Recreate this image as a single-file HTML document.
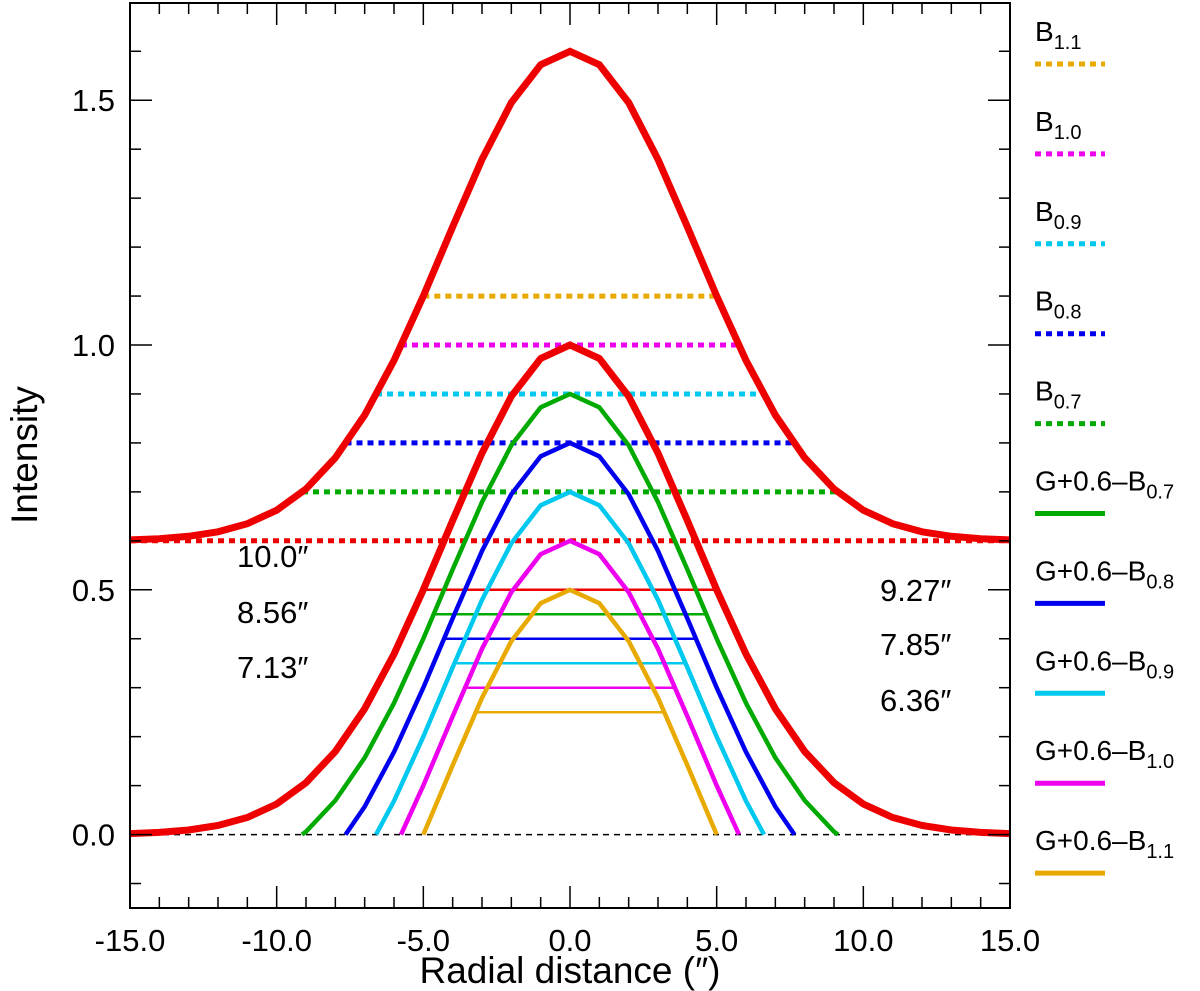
<!DOCTYPE html>
<html><head><meta charset="utf-8"><style>
body{margin:0;background:#fff}
svg{display:block;font-family:"Liberation Sans",sans-serif}
</style></head><body>
<svg id="c" width="1200" height="991"></svg>
<script>
const xTicks=[-15,-10,-5,0,5,10,15];
const xTickLabels=["-15.0","-10.0","-5.0","0.0","5.0","10.0","15.0"];
const yTicks=[0,0.5,1.0,1.5];
const yTickLabels=["0.0","0.5","1.0","1.5"];
const sigma=4.2466;
const baseOffset=0.6;
const bLevels=[0.7,0.8,0.9,1.0,1.1];
const bNames=["0.7","0.8","0.9","1.0","1.1"];
const bColors=["#00aa00","#0000ee","#00c8ee","#ee00ee","#e8aa00"];
const fwhmValues=[10.0,9.27,8.56,7.85,7.13,6.36];
const fwhmLabels=["10.0″","9.27″","8.56″","7.85″","7.13″","6.36″"];
const xs=[];for(let i=-15;i<=15;i++)xs.push(i);
const gVals=xs.map(x=>Math.exp(-x*x/(2*sigma*sigma)));

const svg=document.getElementById('c');const NS='http://www.w3.org/2000/svg';
const L=130,R=1010,T=3,B=908,xmin=-15,xmax=15,ymin=-0.15,ymax=1.6986;
const X=v=>L+(v-xmin)/(xmax-xmin)*(R-L);
const Y=v=>B-(v-ymin)/(ymax-ymin)*(B-T);
function el(t,a,p){const e=document.createElementNS(NS,t);for(const k in a)e.setAttribute(k,a[k]);(p||svg).appendChild(e);return e;}
function poly(pts,color,w,dash,name){const e=el('polyline',{points:pts.map(p=>X(p[0]).toFixed(1)+','+Y(p[1]).toFixed(1)).join(' '),fill:'none',stroke:color,'stroke-width':w,'stroke-linejoin':'miter','stroke-dasharray':dash||'none'});

return e;}
const clip=el('clipPath',{id:'cp'});el('rect',{x:L,y:T,width:R-L,height:B-T},clip);
const g=el('g',{'clip-path':'url(#cp)'});
function gpoly(pts,color,w,dash,name){const e=poly(pts,color,w,dash,name);g.appendChild(e);return e;}
// baseline
gpoly([[xmin,0],[xmax,0]],'#000',1.5,'6,5','zero-baseline');
// clipped curves
function clipped(vals){const out=[];for(let i=0;i<xs.length;i++){const v=vals[i];
 if(v>=0){if(i>0&&vals[i-1]<0){const t=vals[i-1]/(vals[i-1]-v);out.push([xs[i-1]+t,0]);}out.push([xs[i],v]);}
 else if(i>0&&vals[i-1]>=0){const t=vals[i-1]/(vals[i-1]-v);out.push([xs[i-1]+t,0]);}}
 return out;}
function crossX(vals,level){for(let i=1;i<xs.length;i++){if(vals[i-1]<level&&vals[i]>=level){const t=(level-vals[i-1])/(vals[i]-vals[i-1]);return xs[i-1]+t;}}return xmin;}
const topVals=gVals.map(v=>v+baseOffset);
// half-max lines
const hmColors=["#ee0000"].concat(bColors);
for(let k=0;k<6;k++){const lvl=(k===0?1:1-bLevels[k-1]+baseOffset)/2;const hw=fwhmValues[k]/2;
 gpoly([[-hw,lvl],[hw,lvl]],hmColors[k],2.5,null,'half-max-line-'+k);}
// dotted B levels
gpoly([[xmin,baseOffset],[xmax,baseOffset]],'#ee0000',5,'6,5','dotted-b-0.6');
for(let k=0;k<bLevels.length;k++){const c=crossX(topVals,bLevels[k]);gpoly([[c,bLevels[k]],[-c,bLevels[k]]],bColors[k],5,'6,5','dotted-b-'+bNames[k]);}
// difference curves
for(let k=bLevels.length-1;k>=0;k--){const vals=gVals.map(v=>v+baseOffset-bLevels[k]);gpoly(clipped(vals),bColors[k],4.5,null,'curve-g-minus-b'+bNames[k]);}
gpoly(xs.map((x,i)=>[x,gVals[i]]),'#ee0000',7,null,'curve-g');
gpoly(xs.map((x,i)=>[x,topVals[i]]),'#ee0000',7,null,'curve-g-plus-0.6');
// frame
el('rect',{x:L,y:T,width:R-L,height:B-T,fill:'none',stroke:'#000','stroke-width':2});
// ticks
for(let v=-15;v<=15;v++){const maj=v%5===0,len=maj?22:11;const x=X(v);
 el('line',{x1:x,x2:x,y1:B,y2:B-len,stroke:'#000','stroke-width':1.5});el('line',{x1:x,x2:x,y1:T,y2:T+len,stroke:'#000','stroke-width':1.5});}
for(let i=-1;i<=16;i++){const v=i/10;if(v<ymin||v>ymax)continue;const maj=i%5===0,len=maj?22:11;const y=Y(v);
 el('line',{x1:L,x2:L+len,y1:y,y2:y,stroke:'#000','stroke-width':1.5});el('line',{x1:R,x2:R-len,y1:y,y2:y,stroke:'#000','stroke-width':1.5});}
xTicks.forEach((v,i)=>{const t=el('text',{x:X(v),y:B+43,'font-size':31,'text-anchor':'middle'});t.textContent=xTickLabels[i];

});
yTicks.forEach((v,i)=>{const t=el('text',{x:L-15,y:Y(v)+11,'font-size':31,'text-anchor':'end'});t.textContent=yTickLabels[i];

});
let t=el('text',{x:570,y:983,'font-size':37,'text-anchor':'middle'});t.textContent='Radial distance (″)';


t=el('text',{x:0,y:0,'font-size':37,'text-anchor':'middle',transform:'translate(37,455) rotate(-90)'});t.textContent='Intensity';


// annotations
const annPos=[[237,567],[880,601],[237,623],[880,655],[237,678],[880,711]];
fwhmLabels.forEach((s,i)=>{const a=el('text',{x:annPos[i][0],y:annPos[i][1],'font-size':31});a.textContent=s;

});
// legend
for(let j=0;j<10;j++){const ly=64+j*89.9;let k,name,dash;
 if(j<5){k=4-j;dash='6,5';}else{k=j-5;dash=null;}
 el('line',{x1:1035,x2:1105,y1:ly,y2:ly,stroke:bColors[k],'stroke-width':5,'stroke-dasharray':dash||'none'});
 const lt=el('text',{x:1035,y:ly-23,'font-size':28});
 
 
 const pre=j<5?'B':'G+0.6–B';
 lt.appendChild(document.createTextNode(pre));
 const s=el('tspan',{'font-size':20,dy:8},lt);s.textContent=bNames[k];}
</script>
</body></html>
